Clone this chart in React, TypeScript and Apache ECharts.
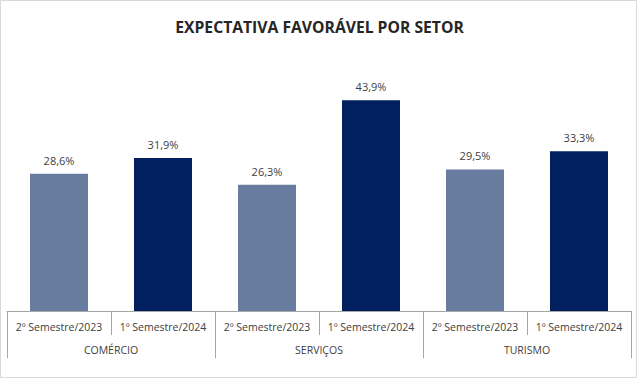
import React, { useEffect, useRef } from "react";
import * as echarts from "echarts";

const title = "EXPECTATIVA FAVORÁVEL POR SETOR";
const groups = ["COMÉRCIO", "SERVIÇOS", "TURISMO"];
const semesters = [
  "2º Semestre/2023",
  "1º Semestre/2024",
  "2º Semestre/2023",
  "1º Semestre/2024",
  "2º Semestre/2023",
  "1º Semestre/2024",
];
const values = [28.6, 31.9, 26.3, 43.9, 29.5, 33.3];
const barColors = ["#687C9F", "#002060", "#687C9F", "#002060", "#687C9F", "#002060"];

export default function App() {
  const ref = useRef<HTMLDivElement>(null);
  useEffect(() => {
    document.body.style.margin = "0";
    const chart = echarts.init(ref.current!, undefined, { renderer: "svg" });
    const font = "Open Sans";
    chart.setOption({
      animation: false,
      backgroundColor: "#ffffff",
      title: {
        text: title,
        left: "center",
        top: 14,
        textStyle: {
          fontFamily: font,
          fontSize: 15.7,
          fontWeight: "bold",
          color: "#262626",
        },
      },
      grid: { left: 7, right: 8, top: 71, bottom: 75, containLabel: false },
      xAxis: [
        {
          type: "category",
          data: semesters,
          position: "bottom",
          axisLine: { show: true, lineStyle: { color: "#A6A6A6", width: 1 } },
          axisTick: { show: true, interval: 0, length: 24, lineStyle: { color: "#A6A6A6" } },
          axisLabel: { interval: 0, margin: 10, fontFamily: font, fontSize: 10.5, color: "#404040" },
        },
        {
          type: "category",
          data: groups,
          position: "bottom",
          offset: 24,
          axisLine: { show: false },
          axisTick: { show: true, interval: 0, length: 23, lineStyle: { color: "#A6A6A6" } },
          axisLabel: { interval: 0, margin: 9, fontFamily: font, fontSize: 10.5, color: "#404040" },
        },
      ],
      yAxis: {
        type: "value",
        min: 0,
        max: 50,
        show: false,
        splitLine: { show: false },
      },
      series: [
        {
          type: "bar",
          xAxisIndex: 0,
          barWidth: 58,
          data: values.map((v, i) => ({ value: v, itemStyle: { color: barColors[i] } })),
          label: {
            show: true,
            position: "top",
            distance: 8,
            formatter: (p: any) => p.value.toFixed(1).replace(".", ",") + "%",
            fontFamily: font,
            fontSize: 11,
            color: "#404040",
          },
        },
      ],
      graphic: [
        {
          type: "rect",
          shape: { x: 0.5, y: 0.5, width: 636, height: 377 },
          style: { fill: "none", stroke: "#D9D9D9", lineWidth: 1 },
          silent: true,
        },
      ],
    });
    return () => chart.dispose();
  }, []);
  return <div ref={ref} style={{ width: 639, height: 386 }} />;
}
